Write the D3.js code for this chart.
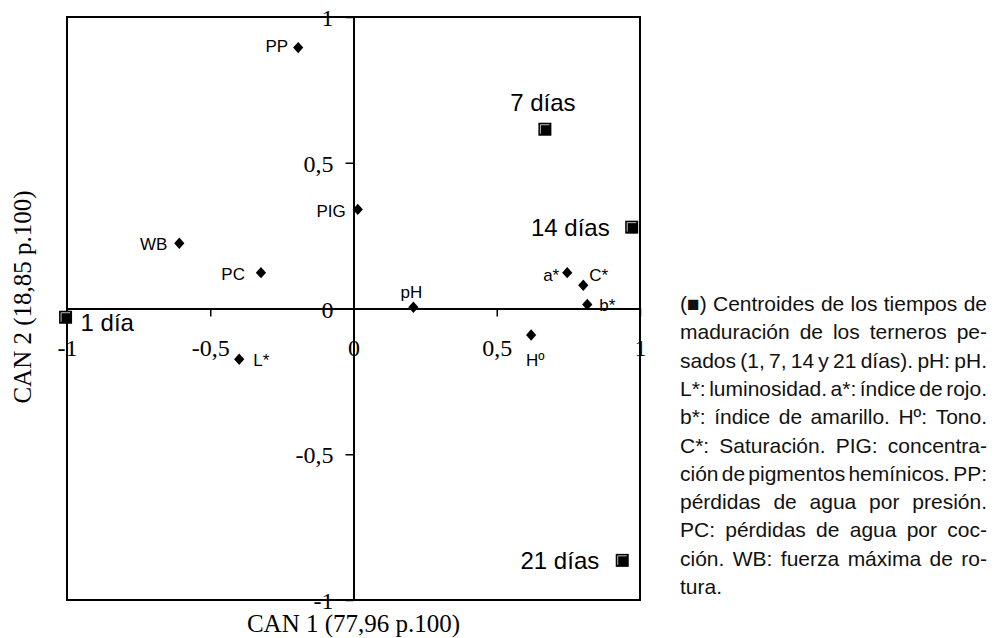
<!DOCTYPE html>
<html>
<head>
<meta charset="utf-8">
<script src="https://cdn.jsdelivr.net/npm/d3@7"></script>
<style>
  body { margin: 0; background: #fff; }
</style>
</head>
<body>
<svg></svg>
<script>
const width = 994;
const height = 638;

// Variable loadings on the two canonical axes
const varNames = ["PP", "PIG", "WB", "PC", "L*", "pH", "Hº", "a*", "C*", "b*"];
const varCan1 = [-0.193, 0.015, -0.608, -0.323, -0.399, 0.209, 0.620, 0.746, 0.802, 0.816];
const varCan2 = [0.895, 0.340, 0.224, 0.123, -0.174, 0.004, -0.091, 0.123, 0.080, 0.014];

// Centroids of the ageing times
const dayNames = ["1 día", "7 días", "14 días", "21 días"];
const dayCan1 = [-1.005, 0.668, 0.971, 0.938];
const dayCan2 = [-0.030, 0.615, 0.279, -0.864];

const tickValues = [-1, -0.5, 0, 0.5, 1];

const captionLines = [
    "(\u25A0) Centroides de los tiempos de",
    "maduración de los terneros pe-",
    "sados (1, 7, 14 y 21 días). pH: pH.",
    "L*: luminosidad. a*: índice de rojo.",
    "b*: índice de amarillo. Hº: Tono.",
    "C*: Saturación. PIG: concentra-",
    "ción de pigmentos hemínicos. PP:",
    "pérdidas de agua por presión.",
    "PC: pérdidas de agua por coc-",
    "ción. WB: fuerza máxima de ro-",
    "tura."
];

// where each label sits relative to its marker
const labelPlace = {
    "PP": [-10, 4, "end"], "PIG": [-12, 8, "end"], "WB": [-12, 7, "end"],
    "PC": [-16, 7, "end"], "L*": [14, 7, "start"], "pH": [-2, -9, "middle"],
    "Hº": [4, 31, "middle"], "a*": [-8, 8, "end"], "C*": [6, -4, "start"],
    "b*": [12, 7, "start"],
    "1 día": [15, 14, "start"], "7 días": [-2, -18, "middle"],
    "14 días": [-22, 9, "end"], "21 días": [-23, 9, "end"]
};

const svg = d3.select("svg")
    .attr("width", width)
    .attr("height", height);

const x = d3.scaleLinear().domain([-1, 1]).range([67, 640]);
const y = d3.scaleLinear().domain([-1, 1]).range([600, 17]);

const fmt = d => String(d).replace(".", ",");
const serif = "'Liberation Serif', 'Times New Roman', serif";
const sans = "'Liberation Sans', Arial, sans-serif";

// Frame
svg.append("rect")
    .attr("x", x(-1)).attr("y", y(1))
    .attr("width", x(1) - x(-1)).attr("height", y(-1) - y(1))
    .attr("fill", "none").attr("stroke", "#000").attr("stroke-width", 2);

// Vertical axis through 0
const yAxis = svg.append("g")
    .attr("transform", `translate(${x(0)},0)`)
    .call(d3.axisLeft(y).tickValues(tickValues).tickSize(8).tickSizeOuter(0).tickPadding(12).tickFormat(fmt));

// Horizontal axis through 0
const xAxis = svg.append("g")
    .attr("transform", `translate(0,${y(0)})`)
    .call(d3.axisBottom(x).tickValues(tickValues).tickSize(8).tickSizeOuter(0).tickFormat(fmt));

[yAxis, xAxis].forEach(g => {
    g.select(".domain").attr("stroke-width", 2);
    g.selectAll(".tick line").attr("stroke-width", 1.5);
    g.selectAll(".tick text")
        .attr("font-family", serif)
        .attr("font-size", 24)
        .attr("fill", "#000");
});
yAxis.selectAll(".tick text").attr("dy", "0.36em");
xAxis.selectAll(".tick text").attr("dy", "0.71em").attr("y", 30);

// Axis titles
svg.append("text")
    .attr("x", x(0)).attr("y", 632)
    .attr("text-anchor", "middle")
    .attr("font-family", serif).attr("font-size", 25)
    .text("CAN 1 (77,96 p.100)");

svg.append("text")
    .attr("transform", "translate(31,297) rotate(-90)")
    .attr("text-anchor", "middle")
    .attr("font-family", serif).attr("font-size", 25)
    .text("CAN 2 (18,85 p.100)");

// Variables: diamonds
const vars = varNames.map((n, i) => ({ name: n, c1: varCan1[i], c2: varCan2[i] }));
const diamond = d3.symbol().type(d3.symbolSquare).size(52);

svg.append("g").selectAll("path")
    .data(vars)
    .join("path")
    .attr("d", diamond)
    .attr("transform", d => `translate(${x(d.c1)},${y(d.c2)}) scale(1,1.12) rotate(45)`)
    .attr("fill", "#000");

svg.append("g").selectAll("text")
    .data(vars)
    .join("text")
    .attr("x", d => x(d.c1) + labelPlace[d.name][0])
    .attr("y", d => y(d.c2) + labelPlace[d.name][1])
    .attr("text-anchor", d => labelPlace[d.name][2])
    .attr("font-family", sans).attr("font-size", 17)
    .text(d => d.name);

// Centroids: squares
const days = dayNames.map((n, i) => ({ name: n, c1: dayCan1[i], c2: dayCan2[i] }));
const sq = 13;

const dayG = svg.append("g").selectAll("g")
    .data(days)
    .join("g")
    .attr("transform", d => `translate(${x(d.c1)},${y(d.c2)})`);

dayG.append("rect")
    .attr("x", -sq / 2).attr("y", -sq / 2)
    .attr("width", sq).attr("height", sq)
    .attr("fill", "#000");

dayG.append("path")
    .attr("d", `M${-sq / 2 + 2},${sq / 2 - 2}V${-sq / 2 + 2}H${sq / 2 - 2}`)
    .attr("fill", "none").attr("stroke", "#bbb").attr("stroke-width", 1);

svg.append("g").selectAll("text")
    .data(days)
    .join("text")
    .attr("x", d => x(d.c1) + labelPlace[d.name][0])
    .attr("y", d => y(d.c2) + labelPlace[d.name][1])
    .attr("text-anchor", d => labelPlace[d.name][2])
    .attr("font-family", sans).attr("font-size", 24)
    .text(d => d.name);

// Caption on the right, justified; lines that are too long get squeezed
const capX = 680, capW = 307, capTop = 311, capStep = 28.3, minGap = 2.5;
captionLines.forEach((line, i) => {
    const t = svg.append("text")
        .attr("font-family", sans).attr("font-size", 21)
        .attr("fill", "#111");
    const words = line.split(" ");
    const spans = words.map(w => t.append("tspan").text(w));
    const widths = spans.map(s => s.node().getComputedTextLength());
    const total = d3.sum(widths);
    const last = i === captionLines.length - 1;
    let k = 1;
    let gap = last ? 5.5 : (capW - total) / (words.length - 1);
    if (!last && gap < minGap) {
        gap = minGap;
        k = capW / (total + gap * (words.length - 1));
    }
    t.attr("transform", `translate(${capX},${capTop + i * capStep}) scale(${k},1)`);
    let cx = 0;
    spans.forEach((s, j) => {
        s.attr("x", cx);
        cx += widths[j] + gap;
    });
});
</script>
</body>
</html>
